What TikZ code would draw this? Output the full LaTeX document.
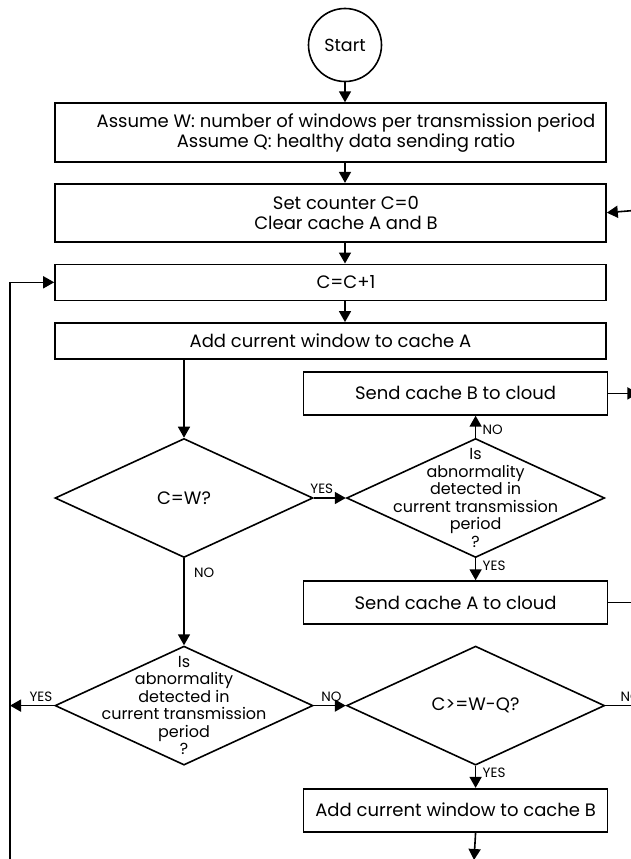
\documentclass[tikz,border=0pt]{standalone}
\usepackage{fontspec}
\setmainfont{Poppins}
\usetikzlibrary{shapes.geometric, arrows.meta, positioning}

\begin{document}
\begin{tikzpicture}[
        x=1pt, y=-1pt,
        node distance=20pt and 32pt,
        % Styles
        terminal/.style={
            circle, draw=black, line width=1.6pt,
            minimum size=73pt, inner sep=0pt,
            font=\fontsize{17.5}{20}\selectfont
        },
        process/.style={
            rectangle, draw=black, line width=1.6pt,
            minimum width=551pt, align=center,
            font=\fontsize{18}{20}\selectfont
        },
        short/.style={
            process, minimum width=304pt, minimum height=43pt
        },
        decision/.style={
            diamond, draw=black, line width=1.6pt,
            minimum width=258pt, minimum height=119pt, inner sep=0pt,
            align=center, font=\fontsize{18}{20}\selectfont
        },
        question/.style={
            align=center, font=\fontsize{16}{17.5}\selectfont
        },
        line/.style={
            ->, >={Triangle[length=11pt, width=12pt]},
            draw=black, line width=1.6pt, font=\fontsize{13.5}{15}\selectfont
        }
    ]

        \useasboundingbox (0,0) rectangle (630,859);

        % Setup
        \node[terminal] (start) at (345,45) {Start};
        \node[process, below=of start, xshift=-14.5pt, minimum height=59pt] (assume)
            {\hspace*{31pt}Assume W: number of windows per transmission period\\\hspace*{31pt}Assume Q: healthy data sending ratio};
        \node[process, below=of assume, minimum height=58pt] (reset)
            {\hspace*{31pt}Set counter C=0\\\hspace*{31pt}Clear cache A and B};
        \node[process, below=21pt of reset, minimum height=36pt] (incr) {\hspace*{31pt}C=C+1};
        \node[process, below=21pt of incr, minimum height=36pt] (addA) {Add current window to cache A};

        % Decisions
        \node[decision] (full) at (184,498) {C=W?};
        \node[decision, right=of full, label={[question]center:{Is\\abnormality\\detected in\\current transmission\\period\\?}}] (abnA) {};
        \node[decision, below=87pt of full, label={[question]center:{Is\\abnormality\\detected in\\current transmission\\period\\?}}] (abnB) {};
        \node[decision, right=of abnB] (ratio) {C>=W-Q?};

        % Cache actions
        \node[short, above=22pt of abnA, xshift=-20pt] (sendB) {Send cache B to cloud};
        \node[short, below=22pt of abnA, xshift=-20pt] (sendA) {Send cache A to cloud};
        \node[short, below=22pt of ratio, xshift=-20pt] (addB) {Add current window to cache B};

        % Free ends
        \coordinate (resetin) at (640,210);
        \coordinate (loopbot) at (10,875);
        \coordinate (bottom) at (474,860);

        % Connections
        \draw[line] (start) -- (start |- assume.north);
        \draw[line] (start |- assume.south) -- (start |- reset.north);
        \draw[line] (start |- reset.south) -- (start |- incr.north);
        \draw[line] (start |- incr.south) -- (start |- addA.north);
        \draw[line] (resetin) -- (reset.east);
        \draw[line] (full.north |- addA.south) -- (full.north);

        \draw[line] (full.east) -- node[pos=0.25, above] {YES} (abnA.west);
        \draw[line] (abnA.north) -- node[pos=0.35, right, xshift=3pt] {NO} (abnA.north |- sendB.south);
        \draw[line] (abnA.south) -- node[pos=0.35, right, xshift=3pt] {YES} (abnA.south |- sendA.north);
        \draw[line] (sendB.east) -- ++(30,0);
        \draw[line, -] (sendA.east) -- ++(40,0);

        \draw[line] (full.south) -- node[pos=0.17, right, xshift=6pt] {NO} (abnB.north);
        \draw[line] (abnB.west) -- node[pos=0.3, above] {YES} (loopbot |- abnB.west);
        \draw[line] (abnB.east) -- node[pos=0.55, above] {NO} (ratio.west);
        \draw[line, -] (ratio.east) -- node[pos=0.68, above] {NO} ++(37,0);
        \draw[line] (ratio.south) -- node[pos=0.3, right, xshift=3pt] {YES} (ratio.south |- addB.north);
        \draw[line] (ratio.south |- addB.south) -- (bottom);

        % Loop back
        \draw[line] (loopbot) |- (incr.west);

    \end{tikzpicture}
\end{document}
